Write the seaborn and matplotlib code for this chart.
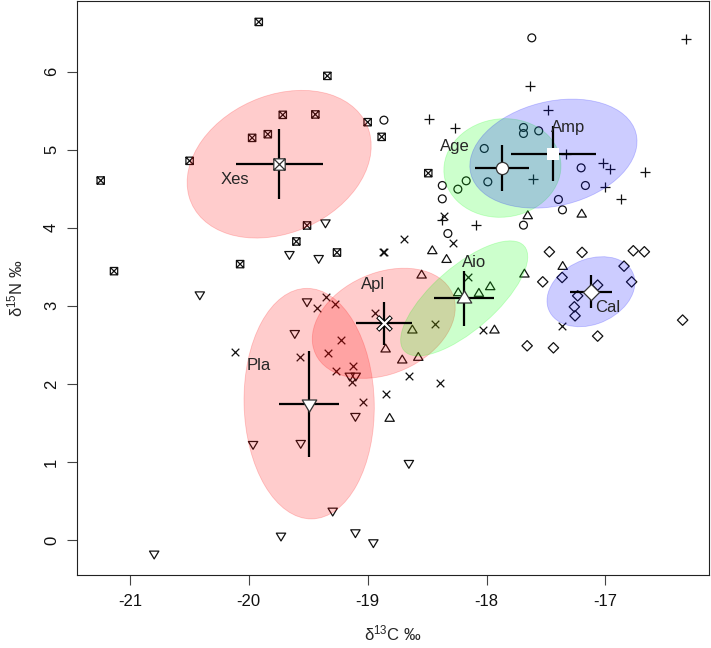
import numpy as np
import pandas as pd
import matplotlib
matplotlib.use("Agg")
import matplotlib.pyplot as plt
import seaborn as sns
from matplotlib.path import Path
from matplotlib.patches import Ellipse

# ---------------- data ----------------
groups = ["Xes", "Pla", "Apl", "Aio", "Age", "Amp", "Cal"]

xes_c13 = [-19.916, -19.339, -19.714, -19.44, -19.0, -18.882, -19.972, -19.84,
           -20.498, -21.246, -19.51, -19.6, -19.258, -20.073, -21.134, -18.49]
xes_n15 = [6.636, 5.945, 5.446, 5.451, 5.352, 5.164, 5.151, 5.198,
           4.857, 4.605, 4.029, 3.824, 3.683, 3.534, 3.444, 4.699]

pla_c13 = [-19.355, -19.658, -19.412, -20.412, -19.51, -19.613, -19.15, -19.10, -19.103,
           -19.964, -19.563, -18.653, -19.294, -19.729, -19.103, -18.952, -20.796]
pla_n15 = [4.063, 3.658, 3.607, 3.141, 3.052, 2.646, 2.10, 2.10, 1.584,
           1.225, 1.238, 0.982, 0.371, 0.051, 0.094, -0.034, -0.179]

apl_c13 = [-18.695, -18.875, -18.865, -19.347, -19.423, -19.275, -18.941, -19.221,
           -20.112, -19.571, -19.333, -19.263, -19.12, -19.134, -18.655, -18.846,
           -19.042, -18.359, -18.283, -18.157, -18.437, -18.031, -17.367, -18.395]
apl_n15 = [3.85, 3.683, 3.69, 3.107, 2.975, 3.018, 2.902, 2.561,
           2.403, 2.347, 2.39, 2.168, 2.232, 2.027, 2.1, 1.869,
           1.771, 4.149, 3.799, 3.371, 2.766, 2.689, 2.744, 2.014]

aio_c13 = [-17.653, -17.199, -18.456, -18.336, -18.546, -17.681, -17.359, -17.969,
           -18.064, -18.238, -17.933, -18.624, -18.574, -18.709, -18.849, -18.815]
aio_n15 = [4.153, 4.174, 3.705, 3.593, 3.393, 3.406, 3.504, 3.244,
           3.159, 3.167, 2.689, 2.689, 2.339, 2.305, 2.446, 1.558]

age_c13 = [-17.619, -17.689, -17.689, -17.561, -18.019, -17.989, -18.171, -18.241, -18.372,
           -18.372, -17.204, -17.168, -17.395, -17.361, -17.689, -18.325, -18.863]
age_n15 = [6.432, 5.284, 5.207, 5.241, 5.015, 4.588, 4.601, 4.494, 4.541,
           4.37, 4.767, 4.541, 4.362, 4.229, 4.033, 3.926, 5.378]

amp_c13 = [-16.322, -17.633, -17.479, -18.487, -18.269, -17.331, -17.023,
           -16.961, -16.664, -17.605, -17.006, -16.868, -18.378, -18.092]
amp_n15 = [6.423, 5.818, 5.506, 5.391, 5.279, 4.946, 4.823,
           4.75, 4.708, 4.626, 4.524, 4.37, 4.097, 4.029]

cal_c13 = [-17.471, -17.196, -16.765, -16.672, -16.843, -16.779, -17.527, -17.364,
           -17.065, -17.233, -17.261, -17.255, -16.35, -17.065, -17.658, -17.437]
cal_n15 = [3.692, 3.684, 3.705, 3.692, 3.508, 3.307, 3.307, 3.363,
           3.265, 3.128, 2.987, 2.872, 2.817, 2.612, 2.488, 2.462]

# label anchor positions (data units)
label_x = [-20.12, -19.913, -18.955, -18.101, -18.269, -17.317, -16.981]
label_y = [4.618, 2.241, 3.278, 3.556, 5.036, 5.279, 2.974]

x_ticks = [-21, -20, -19, -18, -17]
y_ticks = [0, 1, 2, 3, 4, 5, 6]

# ---------------- styling ----------------
sns.set_style("white")
plt.rcParams["font.family"] = ["Liberation Sans", "DejaVu Sans"]
plt.rcParams["mathtext.fontset"] = "custom"
plt.rcParams["mathtext.rm"] = "Liberation Sans"
plt.rcParams["mathtext.it"] = "Liberation Sans:italic"

fill_col = {"Xes": "#FF0000", "Pla": "#FF0000", "Apl": "#FF0000",
            "Aio": "#00FF00", "Age": "#00FF00",
            "Amp": "#0000FF", "Cal": "#0000FF"}

def tri(down):
    s = -1 if down else 1
    return Path([(-1, -0.62 * s), (1, -0.62 * s), (0, 1.05 * s), (-1, -0.62 * s)],
                [Path.MOVETO, Path.LINETO, Path.LINETO, Path.CLOSEPOLY])

boxx = Path([(-1, -1), (1, -1), (1, 1), (-1, 1), (-1, -1),
             (-1, -1), (1, 1), (-1, 1), (1, -1)],
            [Path.MOVETO, Path.LINETO, Path.LINETO, Path.LINETO, Path.CLOSEPOLY,
             Path.MOVETO, Path.LINETO, Path.MOVETO, Path.LINETO])
diamond = Path([(0, 1), (1, 0), (0, -1), (-1, 0), (0, 1)],
               [Path.MOVETO, Path.LINETO, Path.LINETO, Path.LINETO, Path.CLOSEPOLY])

markers = {"Xes": boxx, "Pla": tri(True), "Apl": "x", "Aio": tri(False),
           "Age": "o", "Amp": "+", "Cal": diamond}
sizes = {"Xes": 28, "Pla": 50, "Apl": 30, "Aio": 50, "Age": 32, "Amp": 44, "Cal": 56}
line_art = {"Apl", "Amp"}

data = {
    "Xes": (xes_c13, xes_n15), "Pla": (pla_c13, pla_n15), "Apl": (apl_c13, apl_n15),
    "Aio": (aio_c13, aio_n15), "Age": (age_c13, age_n15), "Amp": (amp_c13, amp_n15),
    "Cal": (cal_c13, cal_n15),
}
df = pd.concat([pd.DataFrame({"group": g, "d13C": data[g][0], "d15N": data[g][1]})
                for g in groups], ignore_index=True)

fig = plt.figure(figsize=(7.11, 6.48), dpi=100)
ax = fig.add_axes([0.1087, 0.1122, 0.889, 0.8868])

# raw points
for g in groups:
    sub = df[df.group == g]
    if g in line_art:
        sns.scatterplot(data=sub, x="d13C", y="d15N", marker=markers[g], s=sizes[g],
                        color="#111111", linewidth=0.9, ax=ax, zorder=2, legend=False)
    else:
        sns.scatterplot(data=sub, x="d13C", y="d15N", marker=markers[g], s=sizes[g],
                        facecolors="none", edgecolors="#111111", linewidths=0.9,
                        ax=ax, zorder=2, legend=False)

# standard ellipses (small-sample corrected), means and 95% CI crosshairs
for i, g in enumerate(groups):
    sub = df[df.group == g]
    x = sub.d13C.to_numpy(); y = sub.d15N.to_numpy(); n = len(x)
    cov = np.cov(x, y) * (n - 1) / (n - 2)
    vals, vecs = np.linalg.eigh(cov)
    order = vals.argsort()[::-1]
    vals, vecs = vals[order], vecs[:, order]
    ang = np.degrees(np.arctan2(vecs[1, 0], vecs[0, 0]))
    mx, my = x.mean(), y.mean()
    ax.add_patch(Ellipse((mx, my), 2 * np.sqrt(vals[0]), 2 * np.sqrt(vals[1]), angle=ang,
                         facecolor=fill_col[g], alpha=0.2, edgecolor=fill_col[g],
                         linewidth=0.6, zorder=3))
    cx = 1.96 * x.std(ddof=1) / np.sqrt(n)
    cy = 1.96 * y.std(ddof=1) / np.sqrt(n)
    ax.plot([mx - cx, mx + cx], [my, my], color="black", lw=1.6, zorder=4,
            solid_capstyle="butt")
    ax.plot([mx, mx], [my - cy, my + cy], color="black", lw=1.6, zorder=4,
            solid_capstyle="butt")
    m = markers[g]
    if g == "Apl":
        ax.scatter([mx], [my], marker="x", s=95, color="black", linewidths=3.2, zorder=5)
        ax.scatter([mx], [my], marker="x", s=80, color="white", linewidths=1.6, zorder=6)
    elif g == "Amp":
        ax.scatter([mx], [my], marker="s", s=70, color="white", linewidths=0, zorder=5)
    else:
        ax.scatter([mx], [my], marker=m, s=sizes[g] * 2.4, facecolors="white",
                   edgecolors="#333333", linewidths=0.9, zorder=5)
    ax.text(label_x[i], label_y[i], g, fontsize=12, ha="center", va="center", zorder=7)

# R-like axis ranges: data range + 4%
xmin, xmax = df.d13C.min(), df.d13C.max()
ymin, ymax = df.d15N.min(), df.d15N.max()
px, py = 0.04 * (xmax - xmin), 0.04 * (ymax - ymin)
ax.set_xlim(xmin - px, xmax + px)
ax.set_ylim(ymin - py, ymax + py)
ax.set_xticks(x_ticks)
ax.set_yticks(y_ticks)
ax.set_xticklabels([str(t) for t in x_ticks])

for s in ax.spines.values():
    s.set_visible(True); s.set_color("#222222"); s.set_linewidth(0.8)
ax.tick_params(axis="both", direction="out", length=7.2, width=0.8, color="#444444",
               labelsize=12, labelcolor="#111111", pad=6, bottom=True, left=True)
ax.tick_params(axis="y", labelrotation=90)
for t in ax.get_yticklabels():
    t.set_va("center")

ax.set_xlabel("δ$^{13}$C ‰", fontsize=12, labelpad=11)
ax.set_ylabel("δ$^{15}$N ‰", fontsize=12, labelpad=13)

fig.savefig("out.png", dpi=100)
